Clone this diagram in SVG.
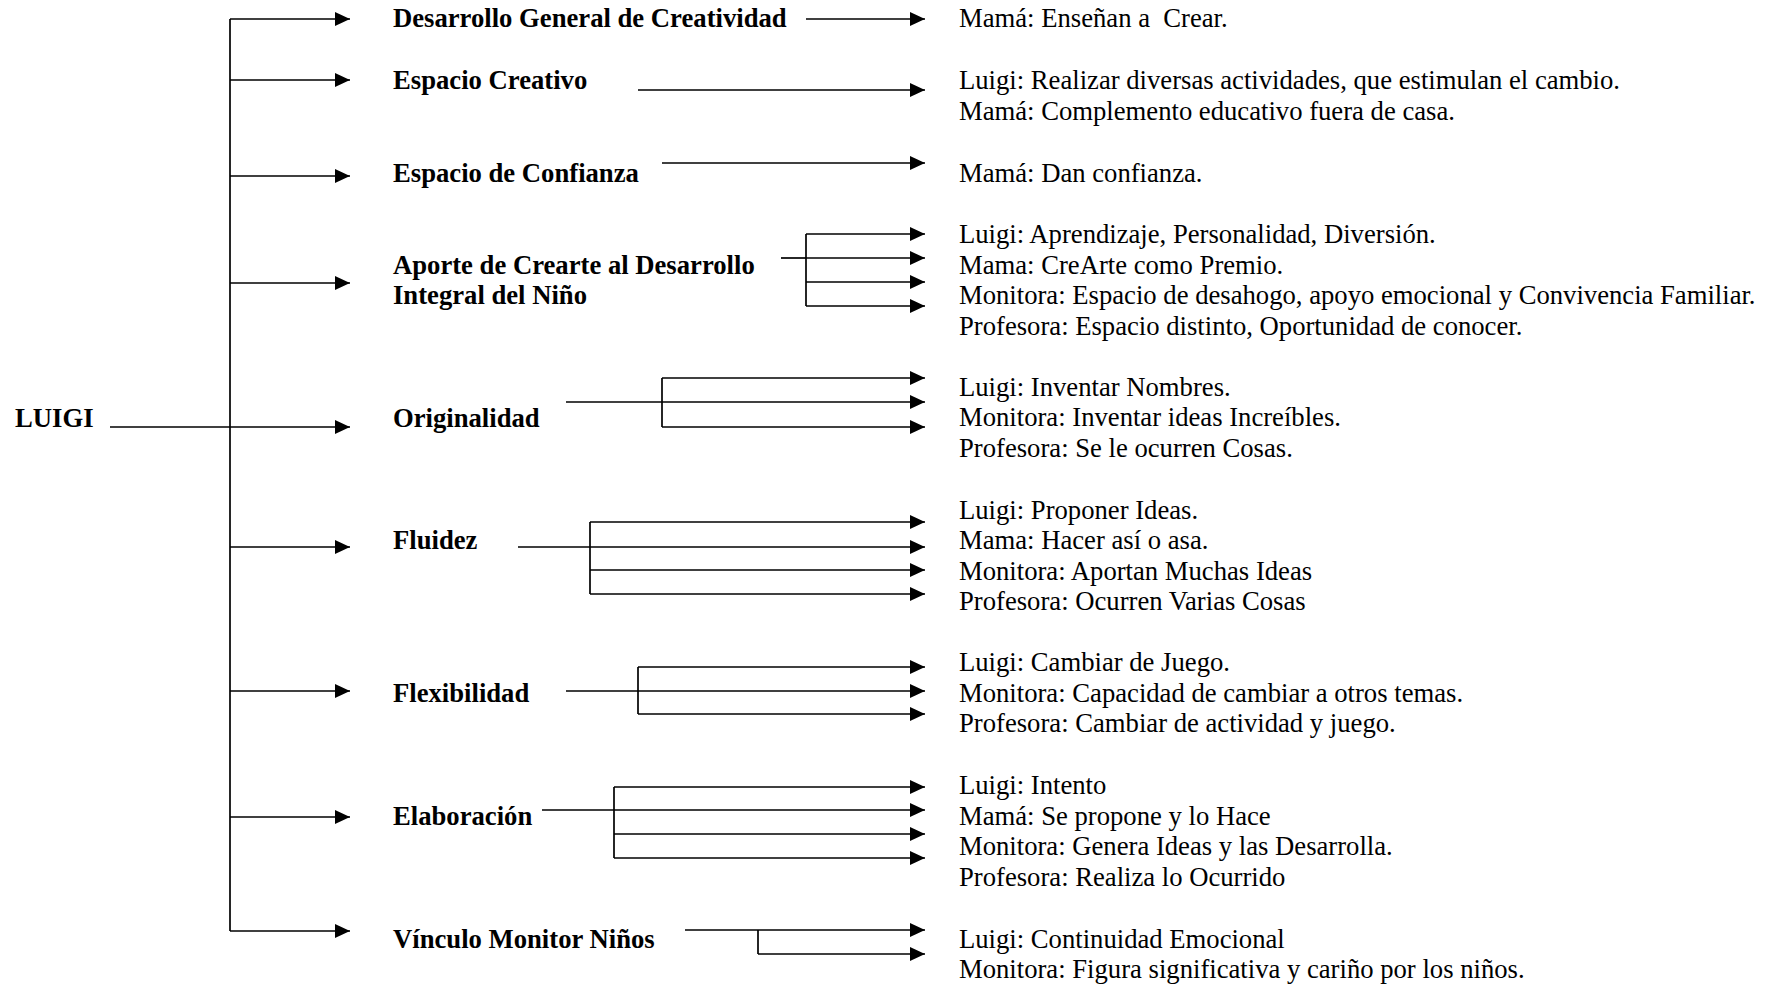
<svg xmlns="http://www.w3.org/2000/svg" width="1771" height="985" viewBox="0 0 1771 985">
<style>
text{font-family:"Liberation Serif","Times New Roman",serif;font-size:26.67px;fill:#000}
.b{font-weight:bold}
.c line,.c path{stroke:#000;stroke-width:1.7;fill:none}
.a{marker-end:url(#ah)}
</style>
<defs>
<marker id="ah" markerUnits="userSpaceOnUse" markerWidth="16" markerHeight="15" refX="15" refY="7" orient="auto">
<path d="M0,0 L15,7 L0,14 z" fill="#000"/>
</marker>
</defs>
<rect width="1771" height="985" fill="#fff"/>
<g id="connectors" class="c">
<line x1="110" y1="427" x2="230" y2="427"/>
<line x1="230" y1="19" x2="230" y2="931"/>
<line class="a" x1="230" y1="19" x2="350" y2="19"/>
<line class="a" x1="230" y1="80" x2="350" y2="80"/>
<line class="a" x1="230" y1="176" x2="350" y2="176"/>
<line class="a" x1="230" y1="283" x2="350" y2="283"/>
<line class="a" x1="230" y1="427" x2="350" y2="427"/>
<line class="a" x1="230" y1="547" x2="350" y2="547"/>
<line class="a" x1="230" y1="691" x2="350" y2="691"/>
<line class="a" x1="230" y1="817" x2="350" y2="817"/>
<line class="a" x1="230" y1="931" x2="350" y2="931"/>
<line class="a" x1="806" y1="19" x2="925" y2="19"/>
<line class="a" x1="638" y1="90" x2="925" y2="90"/>
<line class="a" x1="662" y1="163" x2="925" y2="163"/>
<line x1="781" y1="258" x2="806" y2="258"/>
<line x1="806" y1="234" x2="806" y2="306"/>
<line class="a" x1="806" y1="234" x2="925" y2="234"/>
<line class="a" x1="806" y1="258" x2="925" y2="258"/>
<line class="a" x1="806" y1="282" x2="925" y2="282"/>
<line class="a" x1="806" y1="306" x2="925" y2="306"/>
<line x1="566" y1="402" x2="662" y2="402"/>
<line x1="662" y1="378" x2="662" y2="427"/>
<line class="a" x1="662" y1="378" x2="925" y2="378"/>
<line class="a" x1="662" y1="402" x2="925" y2="402"/>
<line class="a" x1="662" y1="427" x2="925" y2="427"/>
<line x1="518" y1="547" x2="590" y2="547"/>
<line x1="590" y1="522" x2="590" y2="594"/>
<line class="a" x1="590" y1="522" x2="925" y2="522"/>
<line class="a" x1="590" y1="547" x2="925" y2="547"/>
<line class="a" x1="590" y1="570" x2="925" y2="570"/>
<line class="a" x1="590" y1="594" x2="925" y2="594"/>
<line x1="566" y1="691" x2="638" y2="691"/>
<line x1="638" y1="667" x2="638" y2="714"/>
<line class="a" x1="638" y1="667" x2="925" y2="667"/>
<line class="a" x1="638" y1="691" x2="925" y2="691"/>
<line class="a" x1="638" y1="714" x2="925" y2="714"/>
<line x1="542" y1="810" x2="614" y2="810"/>
<line x1="614" y1="787" x2="614" y2="858"/>
<line class="a" x1="614" y1="787" x2="925" y2="787"/>
<line class="a" x1="614" y1="810" x2="925" y2="810"/>
<line class="a" x1="614" y1="834" x2="925" y2="834"/>
<line class="a" x1="614" y1="858" x2="925" y2="858"/>
<line class="a" x1="685" y1="930" x2="925" y2="930"/>
<line x1="758" y1="930" x2="758" y2="954"/>
<line class="a" x1="758" y1="954" x2="925" y2="954"/>
</g>
<g id="luigi"><text class="b" x="15" y="427">LUIGI</text></g>
<g id="n1"><text class="b" x="393" y="27">Desarrollo General de Creatividad</text>
<text x="959" y="27" style="white-space:pre">Mamá: Enseñan a  Crear.</text></g>
<g id="n2"><text class="b" x="393" y="89">Espacio Creativo</text>
<text x="959" y="89">Luigi: Realizar diversas actividades, que estimulan el cambio.</text>
<text x="959" y="119.5">Mamá: Complemento educativo fuera de casa.</text></g>
<g id="n3"><text class="b" x="393" y="182">Espacio de Confianza</text>
<text x="959" y="182">Mamá: Dan confianza.</text></g>
<g id="n4"><text class="b" x="393" y="274">Aporte de Crearte al Desarrollo</text>
<text class="b" x="393" y="304">Integral del Niño</text>
<text x="959" y="243">Luigi: Aprendizaje, Personalidad, Diversión.</text>
<text x="959" y="273.5">Mama: CreArte como Premio.</text>
<text x="959" y="304">Monitora: Espacio de desahogo, apoyo emocional y Convivencia Familiar.</text>
<text x="959" y="334.5">Profesora: Espacio distinto, Oportunidad de conocer.</text></g>
<g id="n5"><text class="b" x="393" y="427">Originalidad</text>
<text x="959" y="395.5">Luigi: Inventar Nombres.</text>
<text x="959" y="426">Monitora: Inventar ideas Increíbles.</text>
<text x="959" y="457">Profesora: Se le ocurren Cosas.</text></g>
<g id="n6"><text class="b" x="393" y="549">Fluidez</text>
<text x="959" y="518.5">Luigi: Proponer Ideas.</text>
<text x="959" y="549">Mama: Hacer así o asa.</text>
<text x="959" y="579.5">Monitora: Aportan Muchas Ideas</text>
<text x="959" y="610">Profesora: Ocurren Varias Cosas</text></g>
<g id="n7"><text class="b" x="393" y="702">Flexibilidad</text>
<text x="959" y="671">Luigi: Cambiar de Juego.</text>
<text x="959" y="701.5">Monitora: Capacidad de cambiar a otros temas.</text>
<text x="959" y="732">Profesora: Cambiar de actividad y juego.</text></g>
<g id="n8"><text class="b" x="393" y="825">Elaboración</text>
<text x="959" y="794">Luigi: Intento</text>
<text x="959" y="825">Mamá: Se propone y lo Hace</text>
<text x="959" y="855">Monitora: Genera Ideas y las Desarrolla.</text>
<text x="959" y="886">Profesora: Realiza lo Ocurrido</text></g>
<g id="n9"><text class="b" x="393" y="948">Vínculo Monitor Niños</text>
<text x="959" y="948">Luigi: Continuidad Emocional</text>
<text x="959" y="978">Monitora: Figura significativa y cariño por los niños.</text></g>
</svg>
